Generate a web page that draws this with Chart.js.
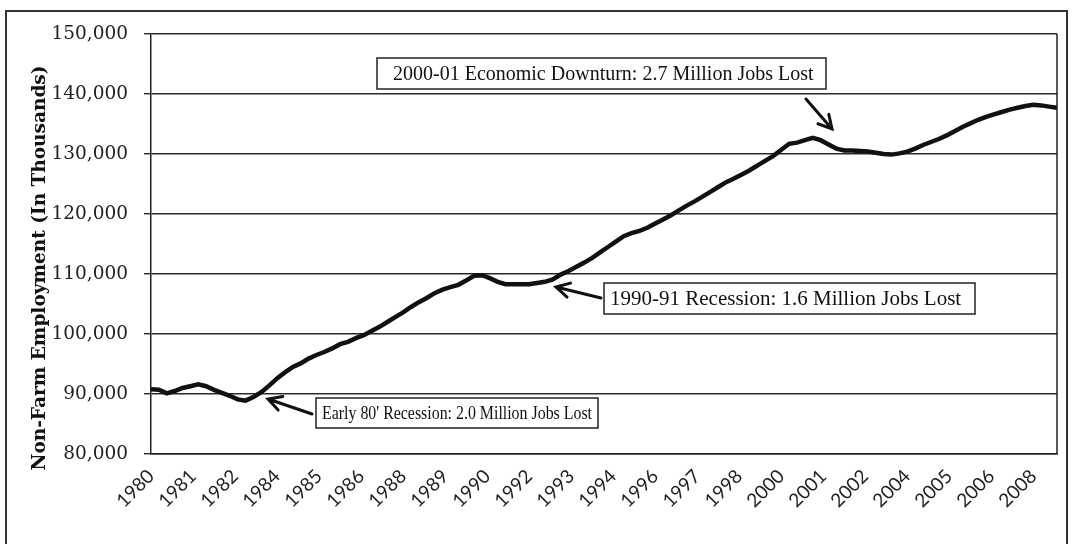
<!DOCTYPE html>
<html>
<head>
<meta charset="utf-8">
<script src="https://cdn.jsdelivr.net/npm/chart.js@4"></script>
<style>
  html, body { margin: 0; padding: 0; background: #fff; }
  #wrap { width: 1073px; height: 544px; }
</style>
</head>
<body>
<div id="wrap"><canvas id="lineChart"></canvas></div>
<script>
// non-farm jobs (thousands), one reading per quarter: Jan, Apr, Jul, Oct, from Jan 1980
var stepMonths = 3;
var jobs = [
  90800, 90700, 90100, 90500,   // 1980
  91000, 91300, 91600, 91300,   // 1981
  90700, 90200, 89700, 89100,   // 1982
  88900, 89500, 90300, 91400,   // 1983
  92600, 93600, 94500, 95100,   // 1984
  95900, 96500, 97000, 97600,   // 1985
  98300, 98700, 99300, 99800,   // 1986
  100500, 101200, 102000, 102800, // 1987
  103600, 104500, 105300, 106000, // 1988
  106800, 107400, 107800, 108200, // 1989
  108900, 109700, 109800, 109300, // 1990
  108700, 108300, 108300, 108300, // 1991
  108300, 108500, 108700, 109100, // 1992
  109900, 110500, 111200, 111900, // 1993
  112700, 113600, 114500, 115400, // 1994
  116300, 116800, 117200, 117700, // 1995
  118400, 119100, 119800, 120600, // 1996
  121400, 122100, 122900, 123700, // 1997
  124500, 125300, 125900, 126600, // 1998
  127300, 128100, 128900, 129700, // 1999
  130700, 131700, 131900, 132300, // 2000
  132700, 132300, 131600, 130900, // 2001
  130600, 130600, 130500, 130400, // 2002
  130200, 130000, 129900, 130100, // 2003
  130400, 130900, 131500, 132000, // 2004
  132500, 133100, 133800, 134500, // 2005
  135100, 135700, 136200, 136600, // 2006
  137000, 137400, 137700, 138000, // 2007
  138200, 138100, 137900, 137700  // 2008
];

// x axis labels sit every 16 months
var tickMonths = [0, 16, 32, 48, 64, 80, 96, 112, 128, 144, 160, 176, 192, 208, 224, 240, 256, 272, 288, 304, 320, 336];
var tickLabels = ['1980', '1981', '1982', '1984', '1985', '1986', '1988', '1989', '1990', '1992', '1993',
                  '1994', '1996', '1997', '1998', '2000', '2001', '2002', '2004', '2005', '2006', '2008'];

var yTitle = 'Non-Farm Employment (In Thousands)';
var noteTexts = [
  '  2000-01 Economic Downturn: 2.7 Million Jobs Lost',
  '1990-91 Recession: 1.6 Million Jobs Lost',
  "Early 80' Recession: 2.0 Million Jobs Lost"
];

var points = jobs.map(function(v, i) { return { x: i * stepMonths, y: v }; });
var lastMonth = (jobs.length - 1) * stepMonths;

function arrow(ctx, x1, y1, x2, y2) {
  var ang = Math.atan2(y2 - y1, x2 - x1);
  var len = 15;
  ctx.beginPath();
  ctx.moveTo(x1, y1);
  ctx.lineTo(x2, y2);
  ctx.moveTo(x2 - len * Math.cos(ang - 0.5), y2 - len * Math.sin(ang - 0.5));
  ctx.lineTo(x2, y2);
  ctx.lineTo(x2 - len * Math.cos(ang + 0.5), y2 - len * Math.sin(ang + 0.5));
  ctx.stroke();
}

function noteBox(ctx, text, x, y, w, h, size) {
  ctx.fillStyle = '#fff';
  ctx.fillRect(x, y, w, h);
  ctx.strokeStyle = '#222';
  ctx.lineWidth = 1.5;
  ctx.strokeRect(x, y, w, h);
  ctx.fillStyle = '#111';
  ctx.font = size + 'px "Liberation Serif"';
  ctx.textAlign = 'left';
  ctx.textBaseline = 'middle';
  ctx.fillText(text, x + 6, y + h / 2 + 1, w - 12);
}

var extras = {
  id: 'extras',
  afterDraw: function(chart) {
    var ctx = chart.ctx;
    var a = chart.chartArea;
    ctx.save();
    // plot area right edge
    ctx.strokeStyle = '#222';
    ctx.lineWidth = 1.5;
    ctx.beginPath();
    ctx.moveTo(a.right, a.top);
    ctx.lineTo(a.right, a.bottom);
    ctx.stroke();
    // outer frame
    ctx.strokeStyle = '#333';
    ctx.lineWidth = 2;
    ctx.strokeRect(6, 11, 1061, 560);
    // y title
    ctx.save();
    ctx.translate(40, 268);
    ctx.rotate(-Math.PI / 2);
    ctx.fillStyle = '#111';
    ctx.font = 'bold 18.5px "DejaVu Serif"';
    ctx.textAlign = 'center';
    ctx.textBaseline = 'middle';
    ctx.fillText(yTitle, 0, 0);
    ctx.restore();
    // notes
    noteBox(ctx, noteTexts[0], 377, 58, 449, 31, 20);
    noteBox(ctx, noteTexts[1], 604, 283, 371, 31, 21);
    noteBox(ctx, noteTexts[2], 316, 398, 282, 30, 19);
    ctx.strokeStyle = '#111';
    ctx.lineWidth = 3;
    ctx.lineCap = 'round';
    arrow(ctx, 806, 99, 832, 129);
    arrow(ctx, 601, 298, 556, 287);
    arrow(ctx, 312, 414, 268, 399);
    ctx.restore();
  }
};

var ctx = document.getElementById('lineChart');
var lineChart = new Chart(ctx, {
  type: 'line',
  data: {
    datasets: [{
      label: 'Non-Farm Employment',
      data: points,
      borderColor: '#111',
      borderWidth: 4.5,
      pointRadius: 0,
      tension: 0,
      fill: false
    }]
  },
  options: {
    responsive: true,
    maintainAspectRatio: false,
    animation: false,
    layout: { padding: { top: 34, right: 16, left: 0, bottom: 0 } },
    plugins: {
      legend: { display: false },
      tooltip: { enabled: false }
    },
    scales: {
      x: {
        type: 'linear',
        min: 0,
        max: lastMonth,
        afterBuildTicks: function(scale) {
          scale.ticks = tickMonths.map(function(m) { return { value: m }; });
        },
        afterFit: function(scale) { scale.height = 90; },
        grid: { display: false },
        border: { display: true, color: '#222', width: 1.5 },
        ticks: {
          autoSkip: false,
          maxRotation: 45,
          minRotation: 45,
          padding: 3,
          color: '#222',
          font: { family: 'Lato', size: 19 },
          callback: function(value, index) { return tickLabels[index]; }
        }
      },
      y: {
        min: 80000,
        max: 150000,
        afterFit: function(scale) { scale.width = 151; },
        grid: { color: '#2a2a2a', lineWidth: 1.4, drawTicks: true, tickLength: 7 },
        border: { display: true, color: '#222', width: 1.5 },
        ticks: {
          stepSize: 10000,
          padding: 16,
          color: '#222',
          font: { family: 'DejaVu Serif', size: 18.5 },
          callback: function(v) { return v.toLocaleString('en-US'); }
        }
      }
    }
  },
  plugins: [extras]
});
</script>
</body>
</html>
